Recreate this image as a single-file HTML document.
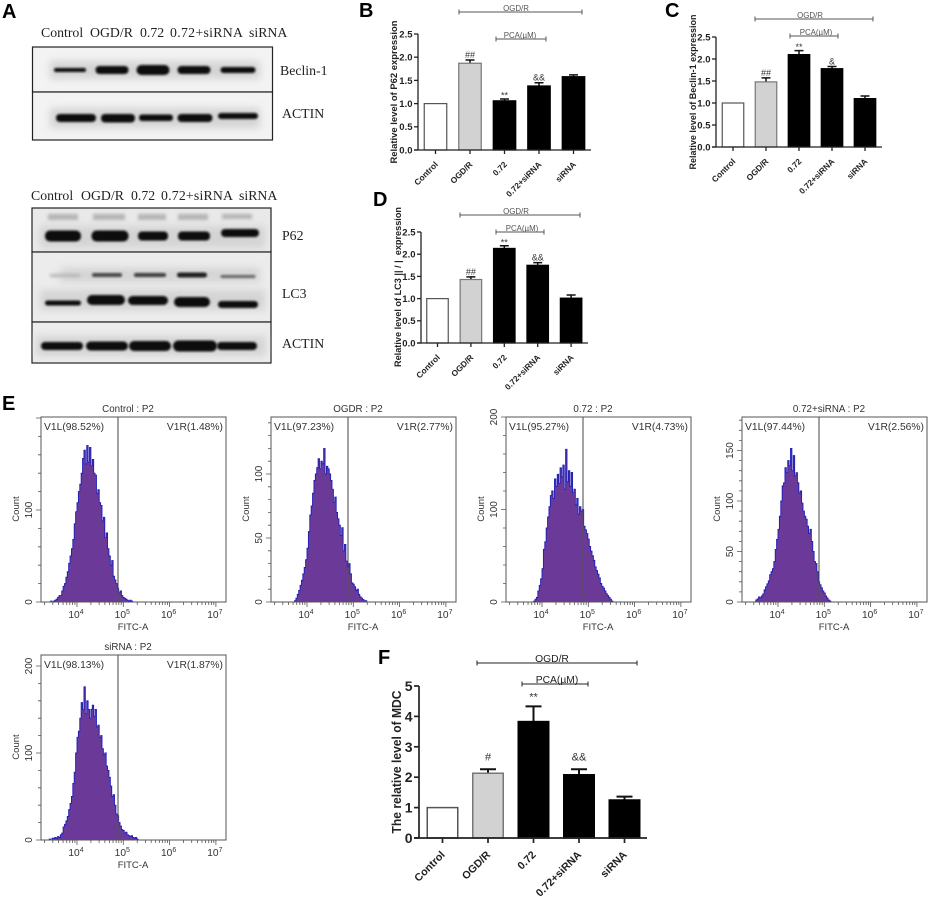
<!DOCTYPE html>
<html lang="en">
<head>
<meta charset="utf-8">
<title>Western blot, flow cytometry and bar chart figure</title>
<style>
html,body{margin:0;padding:0;background:#fff}
svg{display:block}
text{font-family:"Liberation Sans",Arial,sans-serif}
.serif{font-family:"Liberation Serif","Times New Roman",serif;font-size:13.8px;fill:#222}
.letter{font-size:20px;font-weight:bold;fill:#000}
.band{fill:#0b0b0b;filter:url(#b1)}
.faint{fill:#b4b4b4;filter:url(#b2)}
.halo{fill:#d4d4d4;filter:url(#b4)}
.blot{stroke:#222;stroke-width:1.2}
</style>
</head>
<body>
<svg id="fig" xmlns="http://www.w3.org/2000/svg" width="941" height="899" viewBox="0 0 941 899">
<defs>
<filter id="b1" x="-30%" y="-100%" width="160%" height="300%"><feGaussianBlur stdDeviation="1"/></filter>
<filter id="b2" x="-30%" y="-150%" width="160%" height="400%"><feGaussianBlur stdDeviation="1.5"/></filter>
<filter id="b4" x="-30%" y="-200%" width="160%" height="500%"><feGaussianBlur stdDeviation="4"/></filter>
<clipPath id="c1"><rect x="32" y="47" width="240" height="45"/></clipPath>
<clipPath id="c2"><rect x="32" y="92" width="240" height="48"/></clipPath>
<clipPath id="c3"><rect x="32" y="208" width="239" height="44"/></clipPath>
<clipPath id="c4"><rect x="32" y="252" width="239" height="70"/></clipPath>
<clipPath id="c5"><rect x="32" y="322" width="239" height="41"/></clipPath>
</defs>
<rect x="0" y="0" width="941" height="899" fill="#fff"/>

<g>
<text class="letter" x="2" y="18">A</text>
<text class="letter" x="359" y="17">B</text>
<text class="letter" x="665" y="17">C</text>
<text class="letter" x="373" y="206">D</text>
<text class="letter" x="2" y="410">E</text>
<text class="letter" x="378" y="664">F</text>
</g>

<g>
<text class="serif" x="41" y="37">Control</text>
<text class="serif" x="90" y="37">OGD/R</text>
<text class="serif" x="140" y="37">0.72</text>
<text class="serif" x="170" y="37" textLength="73">0.72+siRNA</text>
<text class="serif" x="249" y="37">siRNA</text>

<rect class="blot" x="32.5" y="47" width="240" height="45" fill="#f3f3f3"/>
<g clip-path="url(#c1)">
<rect class="halo" x="50" y="61" width="210" height="18"/>
<rect class="band" x="54" y="68" width="32" height="4" rx="2"/>
<rect class="band" x="95.5" y="66" width="33" height="8" rx="4"/>
<rect class="band" x="136.5" y="65" width="33" height="10" rx="5"/>
<rect class="band" x="177.5" y="66" width="33" height="8" rx="4"/>
<rect class="band" x="220.5" y="67" width="35" height="6" rx="3"/>
</g>
<rect class="blot" x="32.5" y="92" width="240" height="48" fill="#f3f3f3"/>
<g clip-path="url(#c2)">
<rect class="halo" x="50" y="108" width="210" height="20"/>
<rect class="band" x="56" y="114" width="40" height="8" rx="4"/>
<rect class="band" x="101" y="114" width="34" height="8.5" rx="4"/>
<rect class="band" x="139" y="114.5" width="34" height="6.5" rx="3"/>
<rect class="band" x="177.5" y="114" width="35" height="8" rx="4"/>
<rect class="band" x="218" y="113" width="40" height="6" rx="3"/>
</g>
<text class="serif" x="280" y="75">Beclin-1</text>
<text class="serif" x="282" y="118">ACTIN</text>
</g>

<g>
<text class="serif" x="31" y="200">Control</text>
<text class="serif" x="81" y="200">OGD/R</text>
<text class="serif" x="131" y="200">0.72</text>
<text class="serif" x="161" y="200" textLength="72">0.72+siRNA</text>
<text class="serif" x="239" y="200">siRNA</text>

<rect class="blot" x="32" y="208" width="239" height="44" fill="#e9e9e9"/>
<g clip-path="url(#c3)">
<rect class="halo" x="40" y="226" width="225" height="22"/>
<rect class="faint" x="48" y="214" width="30" height="6"/>
<rect class="faint" x="93" y="214" width="32" height="6"/>
<rect class="faint" x="138" y="214" width="28" height="6"/>
<rect class="faint" x="178" y="214" width="30" height="6"/>
<rect class="faint" x="222" y="214" width="30" height="5"/>
<rect class="band" x="45" y="230.5" width="36" height="11" rx="5"/>
<rect class="band" x="91.5" y="230.5" width="37" height="11" rx="5"/>
<rect class="band" x="138" y="231.5" width="30" height="9" rx="4"/>
<rect class="band" x="178" y="231.5" width="32" height="9" rx="4"/>
<rect class="band" x="221" y="229" width="38" height="8" rx="4"/>
</g>
<rect class="blot" x="32" y="252" width="239" height="70" fill="#ececec"/>
<g clip-path="url(#c4)">
<rect class="halo" x="60" y="268" width="200" height="14"/>
<rect class="halo" x="40" y="290" width="225" height="20"/>
<rect class="faint" x="50" y="274" width="30" height="3"/>
<rect class="band" x="92" y="273" width="30" height="4" rx="2" opacity=".7"/>
<rect class="band" x="134" y="273" width="32" height="4" rx="2" opacity=".75"/>
<rect class="band" x="177" y="272.5" width="30" height="5" rx="2.5" opacity=".9"/>
<rect class="band" x="220.5" y="275" width="35" height="3" rx="1.5" opacity=".55"/>
<rect class="band" x="45" y="300.5" width="36" height="5" rx="2.5"/>
<rect class="band" x="87" y="295" width="38" height="10" rx="5"/>
<rect class="band" x="128" y="296" width="40" height="9" rx="4.5"/>
<rect class="band" x="174" y="297" width="36" height="10" rx="5"/>
<rect class="band" x="218" y="301" width="40" height="7" rx="3.5"/>
</g>
<rect class="blot" x="32" y="322" width="239" height="41" fill="#ececec"/>
<g clip-path="url(#c5)">
<rect class="halo" x="36" y="336" width="230" height="20"/>
<rect class="band" x="41" y="342" width="42" height="8" rx="4"/>
<rect class="band" x="86" y="341.5" width="42" height="9" rx="4.5"/>
<rect class="band" x="129" y="341" width="42" height="10" rx="5"/>
<rect class="band" x="173" y="340.5" width="44" height="11" rx="5.5"/>
<rect class="band" x="217" y="342" width="40" height="8" rx="4"/>
</g>
<text class="serif" x="282" y="240">P62</text>
<text class="serif" x="282" y="298">LC3</text>
<text class="serif" x="282" y="348">ACTIN</text>
</g>
</svg>

<script>
// ---- Bar chart data ----
const categories = ['Control', 'OGD/R', '0.72', '0.72+siRNA', 'siRNA'];
const p62Values = [1.0, 1.87, 1.06, 1.38, 1.58];
const p62Errors = [0, 0.07, 0.04, 0.07, 0.04];
const p62Marks = ['', '##', '**', '&&', ''];
const beclinValues = [1.0, 1.48, 2.1, 1.78, 1.1];
const beclinErrors = [0, 0.09, 0.09, 0.05, 0.06];
const beclinMarks = ['', '##', '**', '&', ''];
const lc3Values = [1.0, 1.43, 2.13, 1.75, 1.01];
const lc3Errors = [0, 0.06, 0.06, 0.06, 0.07];
const lc3Marks = ['', '##', '**', '&&', ''];
const mdcValues = [1.0, 2.13, 3.83, 2.08, 1.25];
const mdcErrors = [0, 0.13, 0.5, 0.18, 0.11];
const mdcMarks = ['', '#', '**', '&&', ''];
const smallTicks = ['0.0', '0.5', '1.0', '1.5', '2.0', '2.5'];
const mdcTicks = ['0', '1', '2', '3', '4', '5'];

// ---- Flow cytometry data: counts per log-FITC bin, starting at log10 = 3.4, bin width 0.03 ----
const controlCounts = [0,1,0,1,2,3,5,7,7,12,17,20,27,33,42,50,58,68,85,98,108,120,128,140,156,165,150,170,152,168,148,155,140,138,118,122,108,105,88,92,70,75,58,50,40,45,28,24,20,15,10,12,7,5,4,3,2,1,2,1,0];
const ogdrCounts = [0,0,0,0,0,0,0,0,0,0,0,1,3,6,9,13,17,22,27,33,42,55,68,75,85,95,100,105,112,104,110,108,120,100,106,104,100,95,88,78,82,70,65,60,52,58,40,45,32,27,30,22,15,14,12,9,10,6,4,3,2,1,1,0];
const p072Counts = [0,0,0,0,0,0,0,0,0,0,0,0,0,0,1,3,5,12,18,25,36,57,65,80,92,103,115,120,112,133,125,138,128,145,135,148,122,165,130,142,125,140,118,122,105,112,95,103,98,100,82,78,74,68,60,55,50,45,38,34,30,26,20,17,15,12,9,7,5,3,1,0];
const p072SirnaCounts = [0,0,0,0,2,3,5,4,6,8,12,15,18,21,27,30,33,40,52,62,72,85,100,115,118,133,128,140,135,152,130,145,125,128,118,108,110,98,90,85,82,75,68,72,60,50,40,38,30,20,17,14,11,9,6,4,2,1,0];
const sirnaCounts = [1,0,2,2,3,2,4,3,6,8,15,18,22,27,35,42,50,65,78,100,118,125,140,158,150,176,145,160,150,140,150,155,142,150,130,132,118,120,105,98,100,85,80,72,62,50,52,40,30,28,20,16,12,11,8,9,6,5,4,5,3,2,3,1,0];
const decades = [4, 5, 6, 7];

const SVGNS = 'http://www.w3.org/2000/svg';
const fig = document.getElementById('fig');
function mk(parent, tag, attrs, txt) {
  const e = document.createElementNS(SVGNS, tag);
  for (const k in attrs) e.setAttribute(k, attrs[k]);
  if (txt !== undefined) e.textContent = txt;
  parent.appendChild(e);
  return e;
}
function slug(s) { return s.toLowerCase().replace(/[^a-z0-9]+/g, '-').replace(/^-|-$/g, ''); }

function drawBracket(g, x1, x2, y, label, labelX, color, size, name) {
  const d = 'M' + x1 + ' ' + (y - 2.5) + 'V' + (y + 2.5) + 'M' + x1 + ' ' + y + 'H' + x2 + 'M' + x2 + ' ' + (y - 2.5) + 'V' + (y + 2.5);
  const b = mk(g, 'path', { d: d, fill: 'none', stroke: color, 'stroke-width': 1 });
  
  
  const t = mk(g, 'text', { x: labelX, y: y - 1, 'text-anchor': 'middle', 'font-size': size, fill: color }, label);
  
  
}

function drawBarChart(c, values, errors, marks, ticks) {
  const g = mk(fig, 'g', {});
  
  
  const maxV = parseFloat(ticks[ticks.length - 1]);
  const yScale = function (v) { return c.y0 - v * (c.y0 - c.yTop) / maxV; };
  const xScale = function (i) { return c.cx0 + i * c.step; };

  values.forEach(function (v, i) {
    const cx = xScale(i), top = yScale(v), errTop = yScale(v + errors[i]);
    if (errors[i] > 0) {
      const eb = mk(g, 'path', { d: 'M' + cx + ' ' + top + 'V' + errTop + 'M' + (cx - c.cap) + ' ' + errTop + 'H' + (cx + c.cap), fill: 'none', stroke: '#111', 'stroke-width': c.errW });
      
      
    }
    const fill = i === 0 ? '#fff' : (i === 1 ? '#d2d2d2' : '#000');
    const stroke = i === 0 ? '#555' : (i === 1 ? '#777' : '#000');
    const r = mk(g, 'rect', { x: cx - c.barW / 2, y: top, width: c.barW, height: c.y0 - top, fill: fill, stroke: stroke, 'stroke-width': c.barStroke });
    
    
    if (marks[i]) {
      const off = marks[i] === '**' ? c.starOff : c.markOff;
      const m = mk(g, 'text', { x: cx, y: errTop - off, 'text-anchor': 'middle', 'font-size': c.markSize, fill: '#333' }, marks[i]);
      
      
    }
    const tk = mk(g, 'line', { x1: cx, x2: cx, y1: c.y0, y2: c.y0 + c.tick, stroke: '#222', 'stroke-width': c.axisW });
    
    
    const lx = cx + 3, ly = c.y0 + c.catDy;
    const lab = mk(g, 'text', { x: lx, y: ly, 'text-anchor': 'end', 'font-size': c.catSize, 'font-weight': 'bold', fill: '#222', transform: 'rotate(-45 ' + lx + ' ' + ly + ')' }, categories[i]);
    
    
  });

  const xa = mk(g, 'line', { x1: c.x0 - c.tick, x2: c.xEnd, y1: c.y0, y2: c.y0, stroke: '#222', 'stroke-width': c.axisW });
  
  
  const ya = mk(g, 'line', { x1: c.x0, x2: c.x0, y1: c.yTop, y2: c.y0, stroke: '#222', 'stroke-width': c.axisW });
  
  

  ticks.forEach(function (tv) {
    const y = yScale(parseFloat(tv));
    const tk = mk(g, 'line', { x1: c.x0 - c.tick, x2: c.x0, y1: y, y2: y, stroke: '#222', 'stroke-width': c.axisW });
    
    
    const tl = mk(g, 'text', { x: c.x0 - c.tick - 1.5, y: y + c.tickSize * 0.36, 'text-anchor': 'end', 'font-size': c.tickSize, 'font-weight': 'bold', fill: '#222' }, tv);
    
    
  });

  const yt = mk(g, 'text', { x: c.yLabX, y: c.yLabY, 'text-anchor': 'middle', 'font-size': c.yLabSize, 'font-weight': 'bold', fill: '#222', textLength: c.yLabLen, lengthAdjust: 'spacingAndGlyphs', transform: 'rotate(-90 ' + c.yLabX + ' ' + c.yLabY + ')' }, c.yLabel);
  
  

  drawBracket(g, c.ogd[0], c.ogd[1], c.ogd[2], 'OGD/R', c.ogd[3], c.brColor, c.brSize, 'ogdr');
  drawBracket(g, c.pca[0], c.pca[1], c.pca[2], 'PCA(\u00B5M)', c.pca[3], c.brColor, c.brSize, 'pca');
}

const smallStyle = { cap: 4.5, errW: 1.5, barStroke: 1.2, axisW: 1.3, tick: 4, catDy: 15, catSize: 8.3, tickSize: 9.5, yLabSize: 9.5, markSize: 9, markOff: 2, starOff: 0.5, brColor: '#555', brSize: 7.9 };

drawBarChart(Object.assign({}, smallStyle, {
  name: 'p62-bar-chart', x0: 418, xEnd: 591, y0: 150, yTop: 34, cx0: 435.5, step: 34.5, barW: 22.5,
  yLabel: 'Relative level of P62 expression', yLabX: 397, yLabY: 92, yLabLen: 143,
  ogd: [459, 582, 12, 516], pca: [496, 546, 39, 520]
}), p62Values, p62Errors, p62Marks, smallTicks);

drawBarChart(Object.assign({}, smallStyle, {
  name: 'beclin-bar-chart', x0: 716, xEnd: 882, y0: 147, yTop: 37, cx0: 733, step: 33, barW: 21.5,
  yLabel: 'Relative level of Beclin-1 expression', yLabX: 696, yLabY: 92, yLabLen: 155,
  ogd: [755, 873, 19, 810], pca: [790, 838, 36, 816]
}), beclinValues, beclinErrors, beclinMarks, smallTicks);

drawBarChart(Object.assign({}, smallStyle, {
  name: 'lc3-bar-chart', x0: 421, xEnd: 588, y0: 343, yTop: 232, cx0: 437.5, step: 33.4, barW: 21.5,
  yLabel: 'Relative level of LC3\u00A0||\u00A0/\u00A0|\u00A0\u00A0expression', yLabX: 401, yLabY: 287, yLabLen: 160,
  ogd: [460, 580, 215, 516], pca: [496, 544, 232, 522]
}), lc3Values, lc3Errors, lc3Marks, smallTicks);

drawBarChart({
  name: 'mdc-bar-chart', x0: 419, xEnd: 647, y0: 838, yTop: 686, cx0: 442.5, step: 45.5, barW: 30.5,
  cap: 8, errW: 2, barStroke: 1.5, axisW: 1.7, tick: 5, catDy: 17.4, catSize: 10.7, tickSize: 14, yLabSize: 12.8, markSize: 11, markOff: 9, starOff: 6, brColor: '#222', brSize: 10.3,
  yLabel: 'The relative level of MDC', yLabX: 401, yLabY: 762, yLabLen: 143,
  ogd: [477, 637, 663, 552], pca: [522, 588, 684, 557]
}, mdcValues, mdcErrors, mdcMarks, mdcTicks);

function drawHistogram(c, counts) {
  const g = mk(fig, 'g', {});
  
  
  const W = 185, H = 185;
  const right = c.left + W, bottom = c.top + H;
  const xScale = function (lg) { return c.left + 36 + 46.3 * (lg - 4); };
  const yScale = function (n) { return bottom - n * c.pxPerCount; };
  const binStart = 3.4, binW = 0.03;

  let d = 'M' + xScale(binStart) + ' ' + bottom;
  counts.forEach(function (n, i) {
    const xa = xScale(binStart + i * binW), xb = xScale(binStart + (i + 1) * binW), y = yScale(n);
    d += 'L' + xa.toFixed(2) + ' ' + y.toFixed(2) + 'L' + xb.toFixed(2) + ' ' + y.toFixed(2);
  });
  d += 'L' + xScale(binStart + counts.length * binW).toFixed(2) + ' ' + bottom + 'Z';
  const h = mk(g, 'path', { d: d, fill: '#6b3a98', stroke: '#1d1db8', 'stroke-width': 0.9, 'stroke-linejoin': 'miter' });
  
  

  const frame = mk(g, 'rect', { x: c.left, y: c.top, width: W, height: H, fill: 'none', stroke: '#555', 'stroke-width': 1 });
  
  

  const gate = mk(g, 'line', { x1: c.left + 77, x2: c.left + 77, y1: c.top, y2: bottom, stroke: '#555', 'stroke-width': 1.1 });
  
  

  const title = mk(g, 'text', { x: c.left + 87, y: c.top - 5, 'text-anchor': 'middle', 'font-size': 9.8, fill: '#333' }, c.title);
  
  
  const l = mk(g, 'text', { x: c.left + 3, y: c.top + 13, 'font-size': 10.3, fill: '#333' }, c.leftGate);
  
  
  const r = mk(g, 'text', { x: right - 3, y: c.top + 13, 'text-anchor': 'end', 'font-size': 10.3, fill: '#333' }, c.rightGate);
  
  

  // x ticks: major at each decade, minor on log spacing
  let tickPath = '';
  for (let dec = 3; dec <= 7; dec++) {
    for (let m = 1; m <= 9; m++) {
      const lg = dec + Math.log10(m);
      const x = xScale(lg);
      if (x < c.left || x > right) continue;
      tickPath += 'M' + x.toFixed(2) + ' ' + bottom + 'V' + (bottom + (m === 1 ? 5 : 3));
    }
  }
  let nTick = 0;
  while (nTick * c.minorStep <= (H / c.pxPerCount)) {
    const y = yScale(nTick * c.minorStep);
    tickPath += 'M' + c.left + ' ' + y.toFixed(2) + 'H' + (c.left - (nTick * c.minorStep % c.majorStep === 0 ? 5 : 3));
    nTick++;
  }
  const tp = mk(g, 'path', { d: tickPath, fill: 'none', stroke: '#555', 'stroke-width': 0.8 });
  
  

  decades.forEach(function (dc) {
    const t = mk(g, 'text', { x: xScale(dc) - 1, y: bottom + 16, 'text-anchor': 'middle', 'font-size': 10.2, fill: '#333' });
    
    
    mk(t, 'tspan', {}, '10');
    mk(t, 'tspan', { dy: -4, 'font-size': 7 }, String(dc));
  });
  let v = 0;
  while (v <= c.labelMax) {
    const y = yScale(v);
    const lx = c.left - 9;
    const t = mk(g, 'text', { x: lx, y: y, 'text-anchor': 'middle', 'font-size': 10, fill: '#333', transform: 'rotate(-90 ' + lx + ' ' + y + ')' }, String(v));
    
    
    v += c.majorStep;
  }
  const ct = mk(g, 'text', { x: c.left - 22, y: c.top + 92, 'text-anchor': 'middle', 'font-size': 9.5, fill: '#333', transform: 'rotate(-90 ' + (c.left - 22) + ' ' + (c.top + 92) + ')' }, 'Count');
  
  
  const xt = mk(g, 'text', { x: c.left + 92, y: bottom + 28, 'text-anchor': 'middle', 'font-size': 9.5, fill: '#333' }, 'FITC-A');
  
  
}

drawHistogram({ name: 'flow-control', left: 41, top: 417, pxPerCount: 0.92, minorStep: 20, majorStep: 100, labelMax: 100, title: 'Control : P2', leftGate: 'V1L(98.52%)', rightGate: 'V1R(1.48%)' }, controlCounts);
drawHistogram({ name: 'flow-ogdr', left: 271, top: 417, pxPerCount: 1.28, minorStep: 10, majorStep: 50, labelMax: 100, title: 'OGDR : P2', leftGate: 'V1L(97.23%)', rightGate: 'V1R(2.77%)' }, ogdrCounts);
drawHistogram({ name: 'flow-072', left: 506, top: 417, pxPerCount: 0.925, minorStep: 20, majorStep: 100, labelMax: 200, title: '0.72 : P2', leftGate: 'V1L(95.27%)', rightGate: 'V1R(4.73%)' }, p072Counts);
drawHistogram({ name: 'flow-072-sirna', left: 742, top: 417, pxPerCount: 1.01, minorStep: 10, majorStep: 50, labelMax: 150, title: '0.72+siRNA : P2', leftGate: 'V1L(97.44%)', rightGate: 'V1R(2.56%)' }, p072SirnaCounts);
drawHistogram({ name: 'flow-sirna', left: 41, top: 655, pxPerCount: 0.87, minorStep: 20, majorStep: 100, labelMax: 200, title: 'siRNA : P2', leftGate: 'V1L(98.13%)', rightGate: 'V1R(1.87%)' }, sirnaCounts);
</script>
</body>
</html>
